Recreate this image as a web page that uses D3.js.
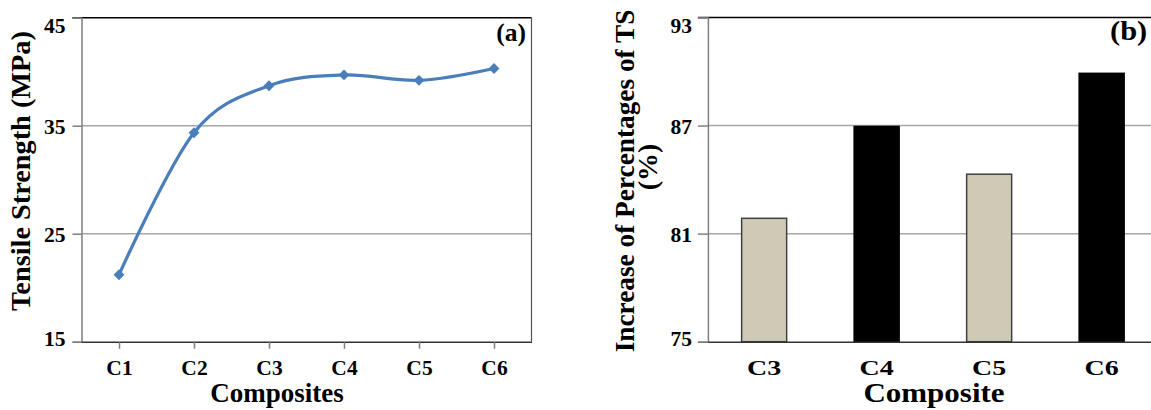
<!DOCTYPE html>
<html><head><meta charset="utf-8">
<script src="https://cdn.jsdelivr.net/npm/d3@7"></script>
<style>
html,body{margin:0;padding:0;background:#fff;}
svg{display:block;}
svg text{font-family:"Liberation Serif","Times New Roman",serif;font-weight:bold;fill:#000;}
</style></head>
<body>
<svg id="c" width="1151" height="410"></svg>
<script>
// Panel (a) data
const compositesA = ["C1","C2","C3","C4","C5","C6"];
const tensileStrength = [21.2, 34.35, 38.7, 39.7, 39.2, 40.3];
const ticksA = [15, 25, 35, 45];
// Panel (b) data
const compositesB = ["C3","C4","C5","C6"];
const increaseTS = [81.85, 86.95, 84.3, 89.9];
const barColors = ["#cfcab6","#000000","#cfcab6","#000000"];
const ticksB = [75, 81, 87, 93];

const svg = d3.select("#c");
const gridCol = "#a6a6a6", axisCol = "#7f7f7f";

function yAxisLabels(g, y, ticks, left) {
  ticks.forEach((t, i) => {
    let dy = 8;
    if (i === ticks.length - 1) dy = 15;
    if (i === 0) dy = 4;
    g.append("text").attr("x", left - 16).attr("y", y(t) + dy)
      .attr("text-anchor", "end").attr("font-size", 21.5).text(t);
  });
}
function stretchedText(g, x, y, sx, size, anchor, str) {
  g.append("text").attr("transform", `translate(${x},${y}) scale(${sx},1)`)
    .attr("text-anchor", anchor).attr("font-size", size).text(str);
}

// ---------- Panel (a) ----------
{
  const L = 81.5, R = 531.5, T = 17.7, B = 341.7;
  const x = d3.scalePoint().domain(compositesA).range([L, R]).padding(0.5);
  const y = d3.scaleLinear().domain([15, 45]).range([B, T]);
  const g = svg.append("g");
  g.selectAll("line.grid").data(ticksA.slice(1, -1)).join("line")
    .attr("x1", L).attr("x2", R).attr("y1", d => y(d)).attr("y2", d => y(d))
    .attr("stroke", gridCol).attr("stroke-width", 1.5);
  g.append("line").attr("x1", L - 9).attr("x2", R).attr("y1", T).attr("y2", T).attr("stroke", "#000").attr("stroke-width", 1.5);
  g.append("line").attr("x1", R).attr("x2", R).attr("y1", T).attr("y2", B).attr("stroke", "#555").attr("stroke-width", 1.2);
  const ya = g.append("g").attr("transform", `translate(${L},0)`)
    .call(d3.axisLeft(y).tickValues(ticksA).tickSize(9).tickFormat(""));
  ya.select(".domain").attr("stroke", axisCol).attr("stroke-width", 1.5);
  ya.selectAll(".tick line").attr("stroke", axisCol).attr("stroke-width", 1.5);
  yAxisLabels(g, y, ticksA, L);
  const xa = g.append("g").attr("transform", `translate(0,${B})`)
    .call(d3.axisBottom(x).tickSize(7).tickSizeOuter(0));
  xa.attr("font-family", null).attr("font-size", null);
  xa.select(".domain").attr("stroke", "#333").attr("stroke-width", 1.5);
  xa.selectAll(".tick line").attr("stroke", axisCol).attr("stroke-width", 1.5);
  xa.selectAll(".tick text").attr("font-size", 21.5).attr("fill", "#000").attr("dy", 0).attr("y", 33);
  const line = d3.line().x((d, i) => x(compositesA[i])).y(d => y(d)).curve(d3.curveCardinal.tension(0));
  g.append("path").datum(tensileStrength).attr("d", line).attr("fill", "none")
    .attr("stroke", "#4a7ebb").attr("stroke-width", 3.2);
  g.selectAll("path.pt").data(tensileStrength).join("path")
    .attr("transform", (d, i) => `translate(${x(compositesA[i])},${y(d)})`)
    .attr("d", d3.symbol(d3.symbolDiamond2, 75)).attr("fill", "#4a7ebb");
  g.append("text").attr("x", 526).attr("y", 41).attr("text-anchor", "end").attr("font-size", 25.5).text("(a)");
  g.append("text").attr("x", 277).attr("y", 402).attr("text-anchor", "middle").attr("font-size", 27).text("Composites");
  g.append("text").attr("transform", `translate(29.5,171) rotate(-90)`).attr("text-anchor", "middle")
    .attr("font-size", 28.3).text("Tensile Strength (MPa)");
}

// ---------- Panel (b) ----------
{
  const L = 707.9, R = 1157.9, T = 17.5, B = 341.7;
  const x = d3.scaleBand().domain(compositesB).range([L, R]).paddingInner(0.6).paddingOuter(0.3);
  const y = d3.scaleLinear().domain([75, 93]).range([B, T]);
  const g = svg.append("g");
  g.selectAll("line.grid").data(ticksB.slice(1, -1)).join("line")
    .attr("x1", L).attr("x2", R).attr("y1", d => y(d)).attr("y2", d => y(d))
    .attr("stroke", gridCol).attr("stroke-width", 1.5);
  g.append("line").attr("x1", L - 10).attr("x2", R).attr("y1", T).attr("y2", T).attr("stroke", "#000").attr("stroke-width", 1.5);
  g.selectAll("rect.bar").data(increaseTS).join("rect")
    .attr("x", (d, i) => x(compositesB[i])).attr("width", x.bandwidth())
    .attr("y", d => y(d)).attr("height", d => B - y(d))
    .attr("fill", (d, i) => barColors[i])
    .attr("stroke", (d, i) => barColors[i] === "#000000" ? "#000" : "#404040").attr("stroke-width", 1.5);
  const ya = g.append("g").attr("transform", `translate(${L},0)`)
    .call(d3.axisLeft(y).tickValues(ticksB).tickSize(10).tickFormat(""));
  ya.select(".domain").attr("stroke", axisCol).attr("stroke-width", 1.5);
  ya.selectAll(".tick line").attr("stroke", axisCol).attr("stroke-width", 1.5);
  yAxisLabels(g, y, ticksB, L);
  const xa = g.append("g").attr("transform", `translate(0,${B})`)
    .call(d3.axisBottom(x).tickSize(0).tickSizeOuter(0).tickFormat(""));
  xa.select(".domain").attr("stroke", "#333").attr("stroke-width", 1.5);
  compositesB.forEach(c => stretchedText(g, x(c) + x.bandwidth() / 2, 375, 1.3, 21.5, "middle", c));
  stretchedText(g, 1110, 40, 1.15, 26.5, "start", "(b)");
  stretchedText(g, 934, 402, 1.17, 26.5, "middle", "Composite");
  g.append("text").attr("transform", `translate(634,181) rotate(-90)`).attr("text-anchor", "middle")
    .attr("font-size", 27.3).text("Increase of Percentages of TS");
  g.append("text").attr("transform", `translate(657,167) rotate(-90)`).attr("text-anchor", "middle")
    .attr("font-size", 28).text("(%)");
}
</script>
</body></html>
